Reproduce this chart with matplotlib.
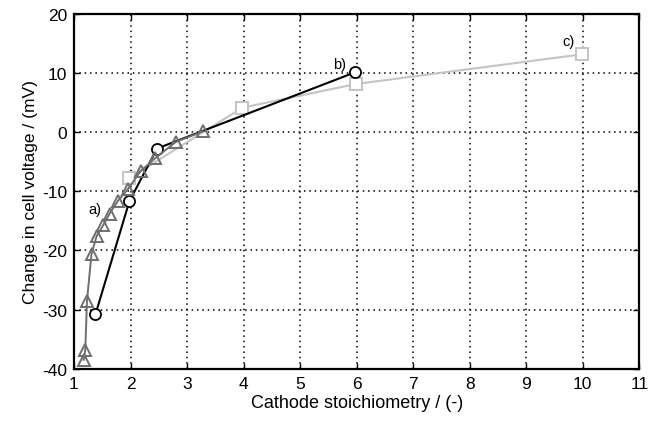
import matplotlib
matplotlib.use("Agg")
import matplotlib.pyplot as plt

plt.rcParams['font.family'] = ['Liberation Sans', 'DejaVu Sans']
plt.rcParams['axes.unicode_minus'] = False

# a) triangles
stoich_a = [1.17, 1.2, 1.23, 1.31, 1.4, 1.52, 1.63, 1.78, 1.95, 2.18, 2.44, 2.8, 3.28]
dv_a = [-38.5, -36.8, -28.5, -20.6, -17.6, -15.7, -13.8, -11.6, -9.7, -6.6, -4.4, -1.7, 0.1]

# b) circles
stoich_b = [1.38, 1.98, 2.47, 5.98]
dv_b = [-30.8, -11.7, -2.8, 10.1]

# c) squares
stoich_c = [1.98, 3.98, 5.99, 9.98]
dv_c = [-7.8, 4.1, 8.1, 13.1]

fig, ax = plt.subplots(figsize=(6.49, 4.27), dpi=100)
fig.subplots_adjust(left=0.114, right=0.985, top=0.966, bottom=0.134)

ax.plot(stoich_c, dv_c, '-s', color='#c4c4c4', markerfacecolor='white',
        markeredgecolor='#c4c4c4', markersize=8, linewidth=1.5, markeredgewidth=1.4, zorder=3)
ax.plot(stoich_b, dv_b, '-o', color='black', markerfacecolor='white',
        markeredgecolor='black', markersize=8, linewidth=1.5, markeredgewidth=1.3, zorder=4)
ax.plot(stoich_a, dv_a, '-^', color='#6e6e6e', markerfacecolor='none',
        markeredgecolor='#6e6e6e', markersize=8, linewidth=1.4, markeredgewidth=1.4, zorder=5)

ax.text(1.37, -13, 'a)', ha='center', va='center', fontsize=10.5)
ax.text(5.7, 11.4, 'b)', ha='center', va='center', fontsize=10.5)
ax.text(9.75, 15.3, 'c)', ha='center', va='center', fontsize=10.5)

ax.set_xlim(1, 11)
ax.set_ylim(-40, 20)
ax.set_xticks(range(1, 12))
ax.set_yticks(range(-40, 21, 10))
ax.grid(True, color='black', linestyle=(0, (1, 2.5)), linewidth=1.1)
ax.tick_params(direction='in', top=True, right=True, length=4, width=1,
               labelsize=12.5, pad=5)
for s in ax.spines.values():
    s.set_linewidth(1.6)

ax.set_xlabel('Cathode stoichiometry / (-)', fontsize=13, labelpad=2)
ax.set_ylabel('Change in cell voltage / (mV)', fontsize=12.5, labelpad=3)

fig.savefig('out.png', dpi=100)
